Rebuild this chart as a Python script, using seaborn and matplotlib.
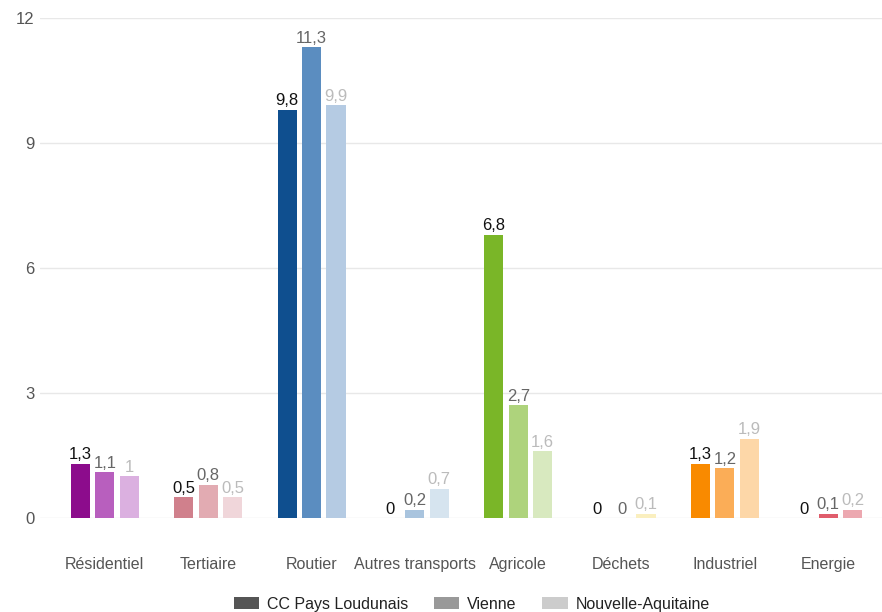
import matplotlib
matplotlib.use("Agg")
import matplotlib.pyplot as plt
from matplotlib.patches import Patch
import seaborn as sns
import pandas as pd

# Emissions by sector for three territories
secteurs = ["Résidentiel", "Tertiaire", "Routier", "Autres transports",
            "Agricole", "Déchets", "Industriel", "Energie"]
territoires = ["CC Pays Loudunais", "Vienne", "Nouvelle-Aquitaine"]
cc_loudunais = [1.3, 0.5, 9.8, 0.0, 6.8, 0.0, 1.3, 0.0]
vienne = [1.1, 0.8, 11.3, 0.2, 2.7, 0.0, 1.2, 0.1]
nouvelle_aquitaine = [1.0, 0.5, 9.9, 0.7, 1.6, 0.1, 1.9, 0.2]
y_ticks = [0, 3, 6, 9, 12]

# One shade per territory, in each sector's own hue
palettes = {
    "Résidentiel": ["#8c0c8c", "#b85fbe", "#dbb0e0"],
    "Tertiaire": ["#d0808c", "#e2abb2", "#f0d6da"],
    "Routier": ["#0f4f8f", "#5b8dc0", "#b5cbe3"],
    "Autres transports": ["#6f9ccc", "#a9c4de", "#d6e4ef"],
    "Agricole": ["#7ab628", "#aed37c", "#d8e9bf"],
    "Déchets": ["#f2cf00", "#f5e27a", "#faefbf"],
    "Industriel": ["#f98a00", "#fbad57", "#fdd7a8"],
    "Energie": ["#d4213b", "#e05d6c", "#eca8b0"],
}
label_colors = ["#111111", "#666666", "#bbbbbb"]
legend_colors = ["#555555", "#999999", "#cccccc"]

df = pd.DataFrame({
    "Secteur": secteurs * 3,
    "Territoire": sum([[t] * len(secteurs) for t in territoires], []),
    "Valeur": cc_loudunais + vienne + nouvelle_aquitaine,
})

sns.set_theme(style="white")
plt.rcParams["font.family"] = ["Liberation Sans", "DejaVu Sans"]

fig = plt.figure(figsize=(8.82, 6.12), dpi=100)
ax = fig.add_axes([0.045, 0.1536, 0.955, 0.817])

sns.barplot(data=df, x="Secteur", y="Valeur", hue="Territoire",
            order=secteurs, hue_order=territoires, width=0.71, gap=0.22,
            errorbar=None, legend=False, ax=ax)

def fmt(v):
    s = f"{v:.1f}".replace(".", ",")
    return s[:-2] if s.endswith(",0") else s

for h, cont in enumerate(ax.containers):
    for i, bar in enumerate(cont):
        bar.set_facecolor(palettes[secteurs[i]][h])
        bar.set_edgecolor("none")
    vals = df[df["Territoire"] == territoires[h]]["Valeur"].tolist()
    ax.bar_label(cont, labels=[fmt(v) for v in vals], padding=1,
                 color=label_colors[h], fontsize=12)

ax.set_ylim(0, 12)
ax.set_xlim(-0.63, 7.52)
ax.set_yticks(y_ticks)
ax.set_yticklabels([str(t) for t in y_ticks], fontsize=12, color="#555555")
ax.tick_params(axis="x", labelsize=11.5, labelcolor="#555555", length=0, pad=28)
ax.tick_params(axis="y", length=0, pad=4)
ax.yaxis.grid(True, color="#e8e8e8", linewidth=1)
ax.set_axisbelow(True)
ax.set_xlabel("")
ax.set_ylabel("")
for s in ax.spines.values():
    s.set_visible(False)

handles = [Patch(facecolor=c, edgecolor="none") for c in legend_colors]
fig.legend(handles, territoires, loc="center", bbox_to_anchor=(0.535, 0.013),
           ncol=3, frameon=False, fontsize=11.5, handlelength=1.6,
           handleheight=0.8, columnspacing=1.6, handletextpad=0.5,
           labelcolor="#222222")

fig.savefig("out.png", dpi=100)
